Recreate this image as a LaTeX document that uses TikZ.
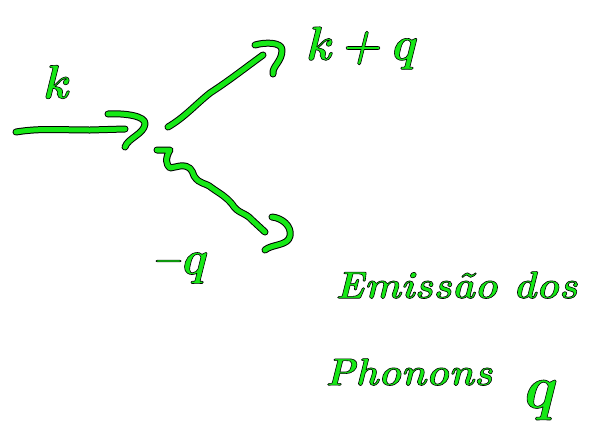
\documentclass[tikz,border=0pt]{standalone}
\definecolor{pen}{RGB}{22,232,22}
\newcommand{\gc}[1]{\special{pdf:literal 0 G 0.6 w 1 j 2 Tr}#1\special{pdf:literal 0 Tr}}
\tikzset{
  hand/.style={draw=black, line width=1pt, double=pen, double distance=5pt, line cap=round, line join=round},
  lab/.style={text=pen, font=\fontsize{48}{52}\selectfont\bfseries\itshape, inner sep=0pt},
  word/.style={text=pen, font=\fontsize{38.5}{44}\selectfont\bfseries\itshape, inner sep=0pt, anchor=west}
}
\begin{document}
\begin{tikzpicture}[x=1pt,y=-1pt]
\useasboundingbox (0,0) rectangle (605,445);
% vertex coordinates
\coordinate (inA) at (16,132);
\coordinate (inB) at (125,129);
\coordinate (outA) at (168,127);
\coordinate (outB) at (263,55);
\coordinate (phA) at (157,150);
\coordinate (phB) at (265,232);
% incoming k
\draw[hand] (inA) .. controls (40,128) and (60,130) .. (90,130) -- (inB);
\draw[hand] (108,114) .. controls (125,113) and (146,116) .. (145,124) .. controls (144,134) and (128,138) .. (125,147);
% outgoing k+q
\draw[hand] (outA) .. controls (185,117) and (195,105) .. (210,93) .. controls (230,80) and (245,68) .. (outB);
\draw[hand] (255,45) .. controls (265,42) and (282,42) .. (282,50) .. controls (282,62) and (272,66) .. (273,74);
% phonon wiggle
\draw[hand] (phA) -- (170,150) .. controls (165,158) and (166,165) .. (170,168) -- (180,166) .. controls (190,165) and (192,170) .. (194,176)
  .. controls (200,185) and (205,182) .. (212,188) .. controls (222,195) and (225,196) .. (232,204)
  .. controls (238,214) and (245,212) .. (252,220) -- (phB);
\draw[hand] (272,217) .. controls (282,218) and (292,226) .. (290,236) .. controls (288,246) and (272,244) .. (265,250);
% labels
\node[lab] (k) at (55,82) {\gc{k}};
\node[lab] (kq) at (360,48) {\gc{k\,+\,q}};
\node[lab] (mq) at (178,268) {\gc{–q}};
\node[word] (em) at (335,285) {\gc{Emissão dos}};
\node[word] (ph) at (325,372) {\gc{Phonons}};
\node[lab, font=\fontsize{62}{66}\selectfont\bfseries\itshape] (q) at (537,400) {\gc{q}};
\end{tikzpicture}
\end{document}
